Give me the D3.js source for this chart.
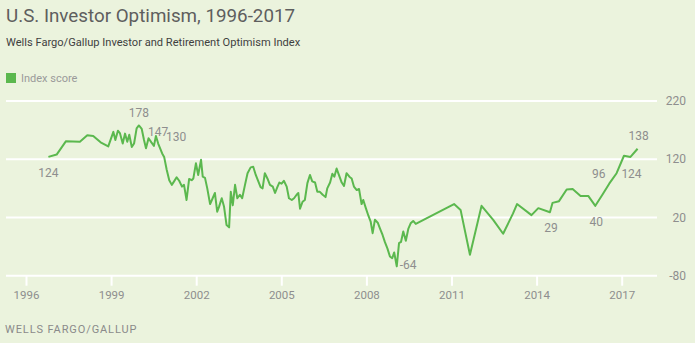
<!DOCTYPE html>
<html>
<head>
<meta charset="utf-8">
<script src="https://cdn.jsdelivr.net/npm/d3@7"></script>
<style>
    body { margin: 0; background: #ebf3dd; }
    svg text { font-family: Roboto, "Open Sans", sans-serif; }
</style>
</head>
<body>
<div id="chart"></div>
<script>
// index score readings, decimal year
const years = [
    1996.79, 1997.08, 1997.41, 1997.90, 1998.16, 1998.37, 1998.63, 1998.90,
    1999.08, 1999.15, 1999.24, 1999.31, 1999.41, 1999.49, 1999.57, 1999.64, 1999.73, 1999.81, 1999.90, 1999.98,
    2000.08, 2000.16, 2000.23, 2000.32, 2000.42, 2000.51, 2000.58, 2000.66, 2000.80, 2000.87, 2000.96,
    2001.05, 2001.14, 2001.22, 2001.31, 2001.40, 2001.50, 2001.57, 2001.66, 2001.75, 2001.84, 2001.90, 2001.99,
    2002.07, 2002.17, 2002.23, 2002.31, 2002.39, 2002.49, 2002.58, 2002.66, 2002.74, 2002.81, 2002.90, 2002.98,
    2003.07, 2003.16, 2003.22, 2003.29, 2003.37, 2003.45, 2003.54, 2003.62, 2003.72, 2003.81, 2003.92,
    2004.01, 2004.10, 2004.19, 2004.27, 2004.34, 2004.42, 2004.51, 2004.60, 2004.70, 2004.78, 2004.86, 2004.93,
    2005.01, 2005.09, 2005.19, 2005.27, 2005.37, 2005.45, 2005.54, 2005.60, 2005.66, 2005.75, 2005.83, 2005.92,
    2006.01, 2006.09, 2006.19, 2006.27, 2006.36, 2006.46, 2006.56, 2006.62, 2006.72, 2006.80, 2006.87, 2006.95,
    2007.03, 2007.13, 2007.21, 2007.30, 2007.40, 2007.48, 2007.56, 2007.66, 2007.74, 2007.83, 2007.89, 2007.98,
    2008.07, 2008.15, 2008.22, 2008.30, 2008.40, 2008.48, 2008.57, 2008.65, 2008.74, 2008.83, 2008.91, 2008.98,
    2009.07, 2009.15, 2009.22, 2009.30, 2009.39, 2009.48, 2009.56, 2009.65, 2009.74,
    2011.09, 2011.32, 2011.65, 2012.06, 2012.47, 2012.82, 2013.17, 2013.31, 2013.82,
    2014.06, 2014.47, 2014.56, 2014.79, 2015.06, 2015.27, 2015.55, 2015.82,
    2016.07, 2016.33, 2016.56, 2016.82, 2017.08, 2017.31, 2017.56
];
const scores = [
    124, 128, 151, 150, 161, 160, 149, 142,
    167, 153, 169, 165, 147, 164, 150, 162, 141, 147, 173, 178,
    172, 153, 139, 156, 149, 143, 160, 147, 130, 124, 102,
    84, 76, 82, 89, 83, 73, 76, 50, 86, 84, 87, 113,
    93, 119, 90, 88, 70, 43, 53, 62, 30, 39, 53, 39,
    7, 3, 64, 41, 76, 53, 59, 53, 76, 96, 106,
    107, 93, 82, 72, 70, 96, 87, 76, 73, 62, 72, 80,
    78, 83, 73, 53, 50, 53, 59, 62, 35, 47, 50, 79,
    93, 82, 80, 64, 64, 59, 55, 70, 80, 95, 90, 104,
    93, 80, 74, 96, 90, 87, 73, 67, 69, 43, 50, 36,
    23, 13, -7, 16, 11, 1, -10, -22, -33, -47, -50, -40,
    -64, -24, -22, -4, -20, 1, 10, 14, 9,
    43, 33, -44, 40, 16, -8, 27, 43, 24,
    36, 29, 45, 48, 68, 69, 57, 57,
    40, 60, 78, 96, 126, 124, 138
];
// points that carry a value label
const labelledYears = [1996.79, 1999.98, 2000.66, 2000.80, 2009.07, 2014.47, 2016.07, 2016.82, 2017.31, 2017.56];

const yTicks = [-80, 20, 120, 220];
const xTicks = [1996, 1999, 2002, 2005, 2008, 2011, 2014, 2017];

const title = "U.S. Investor Optimism, 1996-2017";
const subtitle = "Wells Fargo/Gallup Investor and Retirement Optimism Index";
const seriesName = "Index score";
const source = "WELLS FARGO/GALLUP";

const green = "#5bb84e";
const grey = "#8e8e8e";

const width = 695, height = 343;

const svg = d3.select("#chart").append("svg")
    .attr("width", width)
    .attr("height", height);

// header
svg.append("text")
    .attr("x", 6).attr("y", 22)
    .attr("font-size", 18.8).attr("fill", "#5e5e5e")
    .text(title);

svg.append("text")
    .attr("x", 6).attr("y", 46)
    .attr("font-size", 11.1).attr("fill", "#3f3f3f")
    .text(subtitle);

// legend
svg.append("rect")
    .attr("x", 6).attr("y", 73)
    .attr("width", 10).attr("height", 10)
    .attr("fill", green);

svg.append("text")
    .attr("x", 21).attr("y", 82)
    .attr("font-size", 11).attr("fill", "#9a9a9a")
    .text(seriesName);

// scales
let x = d3.scaleLinear()
    .domain([1996, 2017])
    .range([26, 621.7]);

let y = d3.scaleLinear()
    .domain([-80, 220])
    .range([275.7, 101]);

// horizontal grid + right hand labels
let grid = svg.append("g").attr("class", "grid");
grid.selectAll("line")
    .data(yTicks)
    .enter().append("line")
    .attr("x1", 6).attr("x2", 657)
    .attr("y1", d => y(d)).attr("y2", d => y(d))
    .attr("stroke", "#fff")
    .attr("stroke-width", 2);

grid.selectAll("text")
    .data(yTicks)
    .enter().append("text")
    .attr("x", 686)
    .attr("y", d => y(d))
    .attr("dy", "0.35em")
    .attr("text-anchor", "end")
    .attr("font-size", 12)
    .attr("fill", grey)
    .text(d => d);

// year axis along the bottom grid line
let xAxis = d3.axisBottom(x)
    .tickValues(xTicks)
    .tickFormat(d3.format("d"))
    .tickSize(10)
    .tickPadding(5);

let xg = svg.append("g")
    .attr("transform", "translate(0," + y(-80) + ")")
    .call(xAxis);
xg.select(".domain").remove();
xg.selectAll(".tick line").attr("stroke", "#fff").attr("stroke-width", 2);
xg.selectAll(".tick text")
    .attr("font-size", 11.5)
    .attr("font-family", null)
    .attr("fill", grey);

// series
let points = years.map((d, i) => ({ year: d, value: scores[i] }));

let line = d3.line()
    .x(d => x(d.year))
    .y(d => y(d.value));

svg.append("path")
    .datum(points)
    .attr("fill", "none")
    .attr("stroke", green)
    .attr("stroke-width", 2)
    .attr("stroke-linejoin", "round")
    .attr("d", line);

// value labels: [dx, dy, anchor] for each labelled point
let placement = [
    [0, 20, "middle"],
    [0, -8, "middle"],
    [0, -8, "middle"],
    [14, -12, "middle"],
    [3, 3, "start"],
    [1, 20, "middle"],
    [1, 20, "middle"],
    [-11, 5, "end"],
    [1, 21, "middle"],
    [1, -9, "middle"]
];

svg.append("g").selectAll("text")
    .data(labelledYears)
    .enter().append("text")
    .each(function (yr, i) {
        let p = points.find(d => d.year === yr);
        let [dx, dy, anchor] = placement[i];
        d3.select(this)
            .attr("x", x(p.year) + dx)
            .attr("y", y(p.value) + dy)
            .attr("text-anchor", anchor)
            .text(p.value);
    })
    .attr("font-size", 12)
    .attr("fill", grey);

// source line
svg.append("text")
    .attr("x", 5).attr("y", 333)
    .attr("font-size", 11)
    .attr("letter-spacing", "0.9px")
    .attr("fill", "#8a8a8a")
    .text(source);
</script>
</body>
</html>
